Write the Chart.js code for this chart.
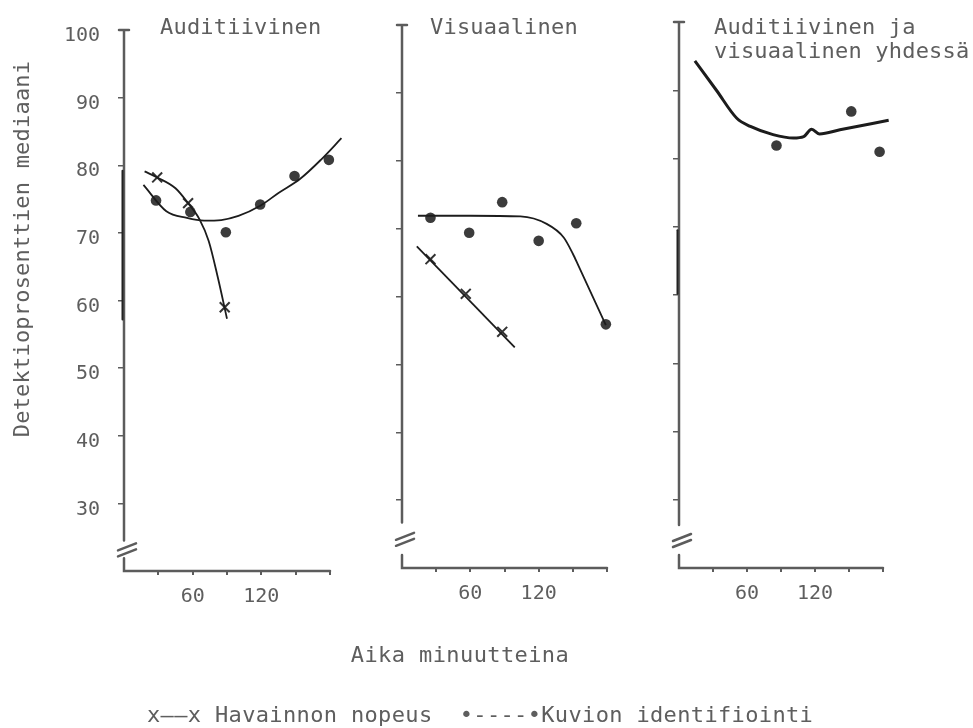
<!DOCTYPE html>
<html>
<head>
<meta charset="utf-8">
<script src="https://cdn.jsdelivr.net/npm/chart.js@4.4.0/dist/chart.umd.min.js"></script>
<style>
  html, body { margin: 0; padding: 0; background: #fff; }
  #wrap { position: relative; width: 973px; height: 728px; overflow: hidden;
          font-family: "DejaVu Sans Mono", monospace; color: #5e5e5e; }
  #wrap canvas { position: absolute; left: 0; top: 0; }
  .txt { position: absolute; font-size: 22px; line-height: 24px; white-space: pre; letter-spacing: 0.2px; }
</style>
</head>
<body>
<div id="wrap">
  <canvas id="c1" width="973" height="728"></canvas>
  <canvas id="c2" width="973" height="728"></canvas>
  <canvas id="c3" width="973" height="728"></canvas>
  <div class="txt" id="t1" style="left:160px; top:15px;"></div>
  <div class="txt" id="t2" style="left:430px; top:15px;"></div>
  <div class="txt" id="t3" style="left:714px; top:15px;"></div>
  <div class="txt" id="ytitle" style="left:-228px; top:237px; width:500px; text-align:center; transform:rotate(-90deg);">Detektioprosenttien mediaani</div>
  <div class="txt" id="xtitle" style="left:260px; top:643px; width:400px; text-align:center; letter-spacing:0.4px;">Aika minuutteina</div>
  <div class="txt" id="legend" style="left:147px; top:703px; letter-spacing:0.35px;">x——x Havainnon nopeus  •----•Kuvion identifiointi</div>
</div>
<script>
// === Tekstit ===
const panelTitles = ['Auditiivinen', 'Visuaalinen', 'Auditiivinen ja\nvisuaalinen yhdessä'];
const yTickValues = [30, 40, 50, 60, 70, 80, 90, 100];
const xTickValues = [30, 60, 90, 120, 150, 180];
const xTickLabels = [60, 120];

// === Auditiivinen ===
const audSpeedMin = [29, 56, 88];
const audSpeedVal = [78.2, 74.4, 59.0];
const audIdentMin = [28, 58, 89, 119, 149, 179];
const audIdentVal = [74.8, 73.1, 70.1, 74.2, 78.4, 80.8];
const audSpeedFitMin = [18, 29, 45, 56, 66, 74, 82, 90];
const audSpeedFitVal = [79.1, 78.2, 76.6, 74.4, 72.0, 68.8, 63.4, 57.3];
const audIdentFitMin = [17, 37, 55, 70, 85, 100, 119, 135, 154, 172, 190];
const audIdentFitVal = [77.1, 73.2, 72.2, 71.8, 71.9, 72.5, 74.0, 75.9, 78.0, 80.8, 84.0];

// === Visuaalinen ===
const visSpeedMin = [25, 56, 88];
const visSpeedVal = [65.5, 60.4, 54.8];
const visIdentMin = [25, 59, 88, 120, 153, 179];
const visIdentVal = [71.6, 69.4, 73.9, 68.2, 70.8, 55.9];
const visSpeedFitMin = [13, 99];
const visSpeedFitVal = [67.4, 52.5];
const visIdentFitMin = [14, 60, 104, 127, 142, 150, 155, 179];
const visIdentFitVal = [71.9, 71.9, 71.8, 70.7, 68.7, 66.3, 64.5, 55.8];

// === Auditiivinen ja visuaalinen yhdessä ===
const bothIdentMin = [86, 152, 177];
const bothIdentVal = [81.9, 86.9, 81.0];
const bothFitMin = [14, 33, 51, 63, 83, 101, 110, 117, 124, 142, 185];
const bothFitVal = [94.3, 90.0, 85.9, 84.7, 83.5, 83.0, 83.2, 84.3, 83.6, 84.2, 85.6];

const textColor = '#5e5e5e';
const axisColor = '#5c5c5c';
const lineColor = '#1c1c1c';
const dotColor = '#3c3c3c';

const toXY = (xs, ys) => xs.map((v, i) => ({ x: v, y: ys[i] }));

const fitLine = (xs, ys, width = 1.8) => ({
  data: toXY(xs, ys),
  showLine: true,
  borderColor: lineColor,
  borderWidth: width,
  pointRadius: 0,
  cubicInterpolationMode: 'monotone',
  tension: 0.4
});
const dots = (xs, ys) => ({
  data: toXY(xs, ys),
  pointStyle: 'circle',
  pointRadius: 5.3,
  backgroundColor: dotColor,
  borderWidth: 0
});
const crosses = (xs, ys) => ({
  data: toXY(xs, ys),
  pointStyle: 'crossRot',
  pointRadius: 7,
  borderColor: '#333',
  borderWidth: 2
});

// paneelien sijainnit kuvassa
const panels = [
  {
    id: 'c1', left: 124, right180: 330, top100: 25, bottom20: 571, labels: true,
    axisEnd: 24.5, axisResume: 21.9, darkSeg: [79.2, 57.2],
    datasets: [
      fitLine(audSpeedFitMin, audSpeedFitVal),
      fitLine(audIdentFitMin, audIdentFitVal),
      crosses(audSpeedMin, audSpeedVal),
      dots(audIdentMin, audIdentVal)
    ]
  },
  {
    id: 'c2', left: 402, right180: 607, top100: 25, bottom20: 568, labels: false,
    axisEnd: 26.7, axisResume: 21.9, darkSeg: null,
    datasets: [
      fitLine(visSpeedFitMin, visSpeedFitVal),
      fitLine(visIdentFitMin, visIdentFitVal),
      crosses(visSpeedMin, visSpeedVal),
      dots(visIdentMin, visIdentVal)
    ]
  },
  {
    id: 'c3', left: 679, right180: 883, top100: 22, bottom20: 568, labels: false,
    axisEnd: 26.3, axisResume: 21.9, darkSeg: [69.5, 60.2],
    datasets: [
      fitLine(bothFitMin, bothFitVal, 3),
      dots(bothIdentMin, bothIdentVal)
    ]
  }
];

// akselit katkoineen piirretään itse
const handAxes = {
  id: 'handAxes',
  beforeDatasetsDraw(chart, args, opts) {
    const p = opts.panel;
    const { ctx } = chart;
    const x = chart.scales.x, y = chart.scales.y;
    const x0 = x.getPixelForValue(0), x180 = x.getPixelForValue(180);
    const yTop = y.getPixelForValue(100), yBot = y.getPixelForValue(20);
    ctx.save();
    ctx.strokeStyle = axisColor;
    ctx.lineWidth = 2.5;
    ctx.lineCap = 'round';
    ctx.beginPath();
    ctx.moveTo(x0, yTop);
    ctx.lineTo(x0, y.getPixelForValue(p.axisEnd));
    ctx.moveTo(x0, y.getPixelForValue(p.axisResume));
    ctx.lineTo(x0, yBot);
    ctx.lineTo(x180, yBot);
    ctx.moveTo(x0 - 5, yTop);
    ctx.lineTo(x0 + 5, yTop);
    ctx.stroke();

    const yb = y.getPixelForValue((p.axisEnd + p.axisResume) / 2);
    ctx.beginPath();
    ctx.moveTo(x0 - 6, yb + 1); ctx.lineTo(x0 + 12, yb - 6);
    ctx.moveTo(x0 - 6, yb + 7); ctx.lineTo(x0 + 12, yb);
    ctx.stroke();

    if (p.darkSeg) {
      ctx.strokeStyle = '#222';
      ctx.lineWidth = 2;
      ctx.beginPath();
      ctx.moveTo(x0 - 1.5, y.getPixelForValue(p.darkSeg[0]));
      ctx.lineTo(x0 - 1.5, y.getPixelForValue(p.darkSeg[1]));
      ctx.stroke();
    }
    ctx.restore();
  }
};

panels.forEach((p, i) => {
  document.getElementById('t' + (i + 1)).textContent = panelTitles[i];
  const areaRight = p.left + (p.right180 - p.left) * 200 / 180;
  const xHeight = 60;

  new Chart(document.getElementById(p.id), {
    type: 'scatter',
    data: { datasets: p.datasets },
    options: {
      responsive: false,
      animation: false,
      events: [],
      layout: {
        padding: { left: 0, top: p.top100, right: 973 - areaRight, bottom: 728 - p.bottom20 - xHeight }
      },
      plugins: {
        legend: { display: false },
        tooltip: { enabled: false },
        handAxes: { panel: p }
      },
      scales: {
        x: {
          type: 'linear',
          min: 0,
          max: 200,
          afterBuildTicks: s => { s.ticks = xTickValues.map(v => ({ value: v })); },
          afterFit: s => { s.height = xHeight; },
          border: { display: false },
          grid: { drawOnChartArea: false, tickLength: 4, color: axisColor, lineWidth: 2 },
          ticks: {
            autoSkip: false,
            maxRotation: 0,
            padding: 10,
            color: textColor,
            font: { family: 'DejaVu Sans Mono', size: 20 },
            callback: v => xTickLabels.includes(v) ? String(v) : ''
          }
        },
        y: {
          type: 'linear',
          min: 20,
          max: 100,
          afterBuildTicks: s => { s.ticks = yTickValues.map(v => ({ value: v })); },
          afterFit: s => { s.width = p.left; },
          border: { display: false },
          grid: { drawOnChartArea: false, tickLength: 6, color: axisColor, lineWidth: 1.5 },
          ticks: {
            display: p.labels,
            padding: 18,
            labelOffset: 6,
            color: textColor,
            font: { family: 'DejaVu Sans Mono', size: 20 }
          }
        }
      }
    },
    plugins: [handAxes]
  });
});
</script>
</body>
</html>
